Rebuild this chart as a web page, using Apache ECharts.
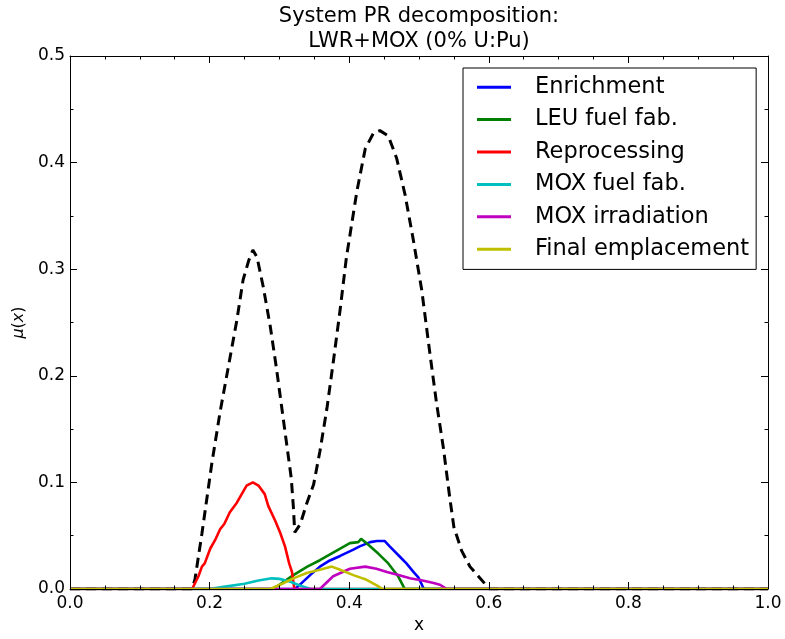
<!DOCTYPE html>
<html>
<head>
<meta charset="utf-8">
<script src="https://cdn.jsdelivr.net/npm/echarts@6/dist/echarts.min.js"></script>
<style>html,body{margin:0;padding:0;background:#fff;}#c{width:785px;height:639px;}</style>
</head>
<body>
<div id="c"></div>
<script>
// ---- data (x, mu(x)) pairs ----
const xTicks = [0.0, 0.2, 0.4, 0.6, 0.8, 1.0];
const yTicks = [0.0, 0.1, 0.2, 0.3, 0.4, 0.5];
const seriesNames = ['Enrichment', 'LEU fuel fab.', 'Reprocessing', 'MOX fuel fab.', 'MOX irradiation', 'Final emplacement'];
const seriesColors = ['#0000ff', '#008000', '#ff0000', '#00bfbf', '#bf00bf', '#bfbf00'];

const totalPR = [[0,0],[0.175,0],[0.179,0.009],[0.189,0.052],[0.203,0.117],[0.215,0.166],[0.227,0.209],[0.239,0.252],[0.248,0.290],[0.256,0.308],[0.262,0.318],[0.268,0.311],[0.277,0.283],[0.287,0.246],[0.296,0.206],[0.303,0.172],[0.310,0.138],[0.317,0.104],[0.320,0.077],[0.322,0.053],[0.330,0.061],[0.339,0.080],[0.349,0.098],[0.358,0.129],[0.368,0.169],[0.377,0.212],[0.387,0.262],[0.396,0.311],[0.411,0.373],[0.423,0.413],[0.435,0.428],[0.444,0.430],[0.456,0.425],[0.468,0.404],[0.480,0.370],[0.492,0.327],[0.504,0.280],[0.516,0.219],[0.525,0.175],[0.535,0.132],[0.544,0.086],[0.550,0.058],[0.561,0.036],[0.573,0.021],[0.585,0.012],[0.601,0.0],[1,0]];

const enrichment = [[0,0],[0.322,0],[0.326,0.002],[0.344,0.013],[0.358,0.021],[0.370,0.026],[0.387,0.031],[0.406,0.037],[0.415,0.040],[0.430,0.044],[0.440,0.045],[0.451,0.045],[0.458,0.040],[0.473,0.030],[0.482,0.024],[0.492,0.016],[0.499,0.011],[0.507,0],[1,0]];

const leuFab = [[0,0],[0.290,0],[0.300,0.004],[0.320,0.013],[0.340,0.021],[0.358,0.027],[0.382,0.036],[0.401,0.043],[0.413,0.044],[0.417,0.047],[0.425,0.043],[0.442,0.033],[0.456,0.024],[0.470,0.012],[0.478,0.002],[0.480,0],[1,0]];

const reprocessing = [[0,0],[0.175,0],[0.177,0.001],[0.184,0.012],[0.189,0.021],[0.193,0.024],[0.201,0.038],[0.208,0.046],[0.215,0.056],[0.221,0.061],[0.229,0.072],[0.239,0.081],[0.246,0.089],[0.253,0.097],[0.262,0.100],[0.270,0.097],[0.279,0.089],[0.284,0.078],[0.294,0.064],[0.301,0.053],[0.308,0.040],[0.314,0.024],[0.318,0.016],[0.321,0.002],[0.322,0],[1,0]];

const moxFab = [[0,0],[0.200,0],[0.220,0.002],[0.250,0.005],[0.270,0.008],[0.289,0.010],[0.300,0.0095],[0.315,0.007],[0.330,0.003],[0.345,0],[1,0]];

const moxIrr = [[0,0],[0.358,0],[0.377,0.012],[0.401,0.019],[0.423,0.021],[0.439,0.019],[0.454,0.016],[0.472,0.013],[0.487,0.010],[0.505,0.008],[0.521,0.0056],[0.530,0.004],[0.540,0],[1,0]];

const finalEmpl = [[0,0],[0.287,0],[0.301,0.004],[0.320,0.010],[0.339,0.015],[0.358,0.018],[0.375,0.021],[0.387,0.018],[0.406,0.013],[0.425,0.0086],[0.442,0.0025],[0.447,0],[1,0]];

const componentData = [enrichment, leuFab, reprocessing, moxFab, moxIrr, finalEmpl];

// ---- chart ----
const FONT = 'DejaVu Sans';
const chart = echarts.init(document.getElementById('c'), null, {renderer: 'canvas'});

function axisBase(extra) {
  return Object.assign({
    type: 'value',
    axisLine: {show: true, onZero: false, lineStyle: {color: '#000', width: 1}},
    axisTick: {show: true, inside: true, length: 7, lineStyle: {color: '#000', width: 1}},
    minorTick: {show: true, length: 3.5, lineStyle: {color: '#000', width: 1}},
    splitLine: {show: false},
    minorSplitLine: {show: false},
    z: 10
  }, extra);
}
const fmt = v => v.toFixed(1);

const series = [{
  name: 'total',
  type: 'line',
  data: totalPR,
  showSymbol: false, symbol: 'none',
  color: '#000',
  lineStyle: {color: '#000', width: 3, type: [10, 6]},
  z: 2
}];
seriesNames.forEach((n, i) => {
  series.push({
    name: n,
    type: 'line',
    data: componentData[i],
    showSymbol: false, symbol: 'none',
    color: seriesColors[i],
    lineStyle: {color: seriesColors[i], width: 2.6},
    z: 3
  });
});

chart.setOption({
  animation: false,
  backgroundColor: '#fff',
  grid: {left: 70, top: 56, width: 698, height: 540, containLabel: false},
  xAxis: [
    axisBase({
      position: 'bottom', min: xTicks[0], max: xTicks[xTicks.length - 1], interval: 0.2,
      minorTick: {show: true, splitNumber: 4, length: 3.5, lineStyle: {color: '#000'}},
      axisLabel: {show: true, formatter: fmt, color: '#000', fontSize: 17, fontFamily: FONT, margin: 6},
      name: 'x', nameLocation: 'middle', nameGap: 28,
      nameTextStyle: {color: '#000', fontSize: 17, fontFamily: FONT}
    }),
    axisBase({
      position: 'top', min: xTicks[0], max: xTicks[xTicks.length - 1], interval: 0.2,
      minorTick: {show: true, splitNumber: 4, length: 3.5, lineStyle: {color: '#000'}},
      axisLabel: {show: false}
    })
  ],
  yAxis: [
    axisBase({
      position: 'left', min: yTicks[0], max: yTicks[yTicks.length - 1], interval: 0.1,
      minorTick: {show: true, splitNumber: 2, length: 3.5, lineStyle: {color: '#000'}},
      axisLabel: {show: true, formatter: fmt, color: '#000', fontSize: 17, fontFamily: FONT, margin: 5},
      name: '{i|μ}({i|x})', nameLocation: 'middle', nameGap: 40, nameRotate: 90,
      nameTextStyle: {color: '#000', fontSize: 16, fontFamily: FONT,
        rich: {i: {fontStyle: 'italic', fontSize: 16, fontFamily: FONT, color: '#000'}}}
    }),
    axisBase({
      position: 'right', min: yTicks[0], max: yTicks[yTicks.length - 1], interval: 0.1,
      minorTick: {show: true, splitNumber: 2, length: 3.5, lineStyle: {color: '#000'}},
      axisLabel: {show: false}
    })
  ],
  legend: {
    show: true,
    orient: 'vertical',
    left: 463, top: 68,
    padding: [3, 7, 4, 14],
    itemGap: 0,
    itemWidth: 34, itemHeight: 3,
    icon: 'rect',
    borderColor: '#000', borderWidth: 1, borderRadius: 0,
    backgroundColor: '#fff',
    selectedMode: false,
    textStyle: {fontSize: 22.5, fontFamily: FONT, color: '#000', lineHeight: 32.4, padding: [0, 0, 0, 19]},
    data: seriesNames
  },
  graphic: [
    {type: 'text', x: 419, y: 17, z: 100,
      style: {text: 'System PR decomposition:', fill: '#000', font: '21px "DejaVu Sans"', textAlign: 'center', textVerticalAlign: 'middle'}},
    {type: 'text', x: 419, y: 42, z: 100,
      style: {text: 'LWR+MOX (0% U:Pu)', fill: '#000', font: '21px "DejaVu Sans"', textAlign: 'center', textVerticalAlign: 'middle'}}
  ],
  series: series
});
</script>
</body>
</html>
